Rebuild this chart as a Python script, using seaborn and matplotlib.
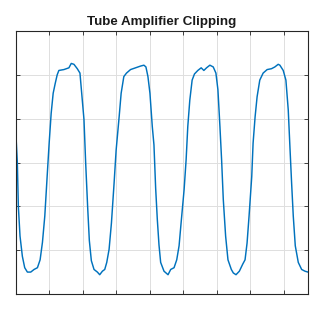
import matplotlib
matplotlib.use("Agg")
import matplotlib.pyplot as plt
import seaborn as sns
import pandas as pd

sns.set_theme(style="white")
plt.rcParams['font.family'] = ['Liberation Sans', 'DejaVu Sans']

time_ms = [0.00, 0.04, 0.07, 0.12, 0.19, 0.26, 0.34, 0.44, 0.54, 0.64, 0.72, 0.79, 0.86, 0.93,
           0.99, 1.05, 1.11, 1.17, 1.23, 1.28, 1.43, 1.58, 1.65, 1.73, 1.83, 1.91, 1.98, 2.03,
           2.08, 2.14, 2.19, 2.25, 2.33, 2.43, 2.50, 2.58, 2.65, 2.71, 2.78, 2.85, 2.93, 2.99,
           3.08, 3.14, 3.22, 3.30, 3.42, 3.57, 3.72, 3.82, 3.88, 3.94, 4.00, 4.07, 4.12, 4.17,
           4.22, 4.27, 4.32, 4.42, 4.54, 4.62, 4.72, 4.80, 4.87, 4.93, 5.02, 5.08, 5.13, 5.19,
           5.26, 5.33, 5.43, 5.53, 5.61, 5.69, 5.79, 5.89, 5.97, 6.03, 6.09, 6.14, 6.19, 6.26,
           6.33, 6.43, 6.49, 6.57, 6.67, 6.77, 6.84, 6.90, 6.96, 7.04, 7.08, 7.14, 7.20, 7.28,
           7.38, 7.50, 7.63, 7.73, 7.83, 7.88, 7.98, 8.06, 8.13, 8.18, 8.23, 8.28, 8.34, 8.43,
           8.53, 8.63, 8.72]
amplitude = [0.30, 0.00, -0.50, -0.84, -1.07, -1.20, -1.25, -1.25, -1.22, -1.20, -1.11, -0.91, -0.61, -0.16,
             0.22, 0.56, 0.79, 0.90, 1.00, 1.05, 1.06, 1.08, 1.13, 1.12, 1.07, 1.02, 0.71, 0.49,
             0.00, -0.51, -0.89, -1.12, -1.22, -1.25, -1.28, -1.24, -1.22, -1.14, -0.99, -0.69, -0.23, 0.14,
             0.52, 0.79, 0.98, 1.02, 1.06, 1.08, 1.10, 1.11, 1.09, 0.98, 0.79, 0.41, 0.20, -0.29,
             -0.65, -0.94, -1.14, -1.24, -1.28, -1.22, -1.20, -1.11, -0.95, -0.69, -0.31, 0.03, 0.41, 0.71,
             0.94, 1.01, 1.05, 1.08, 1.05, 1.08, 1.11, 1.09, 1.02, 0.83, 0.41, 0.03, -0.42, -0.84,
             -1.11, -1.22, -1.26, -1.28, -1.24, -1.16, -1.11, -0.92, -0.61, -0.16, 0.22, 0.52, 0.75, 0.94,
             1.02, 1.06, 1.07, 1.09, 1.12, 1.11, 1.05, 0.94, 0.60, 0.18, -0.23, -0.61, -0.95, -1.14,
             -1.22, -1.24, -1.25]

title_text = "Tube Amplifier Clipping"

df = pd.DataFrame({"t": time_ms, "a": amplitude})

fig = plt.figure(figsize=(3.24, 3.13), dpi=100)
ax = fig.add_axes([16/324, 1 - 294/313, 292/324, 263/313])

sns.lineplot(data=df, x="t", y="a", ax=ax, color="#0072BD", linewidth=1.05,
             estimator=None, sort=False)

ax.set_xlim(0, 8.72)
ax.set_ylim(-1.5, 1.5)
ax.set_xticks(range(0, 9))
ax.set_yticks([-1.5, -1.0, -0.5, 0.0, 0.5, 1.0, 1.5])
ax.set_xticklabels([])
ax.set_yticklabels([])
ax.set_xlabel("")
ax.set_ylabel("")
ax.grid(True, color="#dedede", linewidth=0.7)
ax.set_axisbelow(True)
ax.tick_params(direction="in", length=3, width=0.6, color="#262626",
               top=True, right=True, bottom=True, left=True)
for s in ax.spines.values():
    s.set_color("#262626")
    s.set_linewidth(0.8)
    s.set_visible(True)

ax.set_title(title_text, fontsize=9.6, fontweight="bold", color="#1a1a1a", pad=4)

fig.savefig("out.png", dpi=100)
